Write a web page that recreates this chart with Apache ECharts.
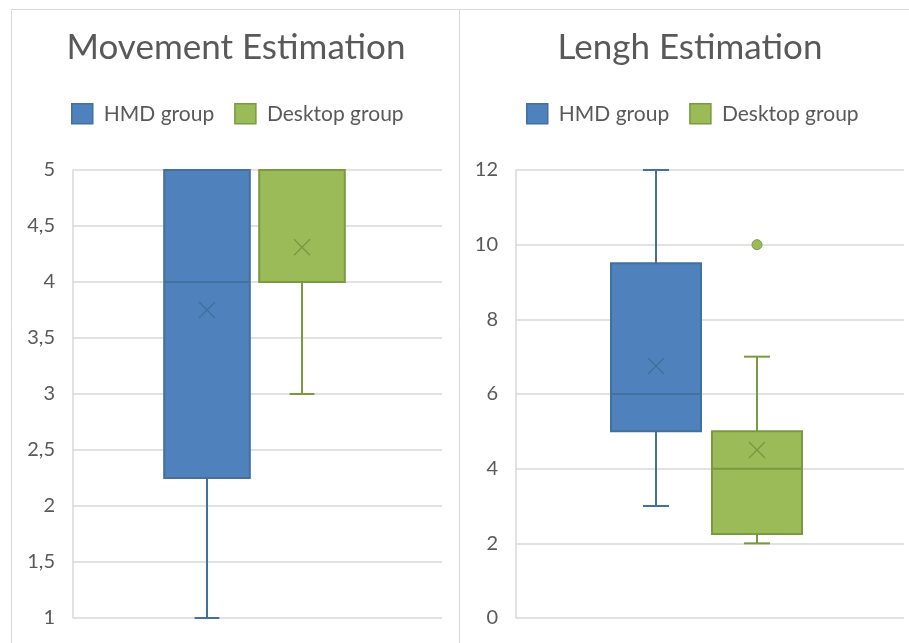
<!DOCTYPE html>
<html>
<head>
<meta charset="utf-8">
<script src="https://cdn.jsdelivr.net/npm/echarts@6/dist/echarts.min.js"></script>
<style>
  html, body { margin: 0; padding: 0; background: #ffffff; }
  #chart { width: 909px; height: 643px; }
</style>
</head>
<body>
<div id="chart"></div>
<script>
// Box-and-whisker summaries: [min, Q1, median, Q3, max], plus mean and outliers
const groups = ['HMD group', 'Desktop group'];
const categories = [''];

const movementHMD = [1, 2.25, 4, 5, 5];
const movementDesktop = [3, 4, 4, 5, 5];
const movementMeans = [3.75, 4.31];
const movementOutliers = [[], []];

const lengthHMD = [3, 5, 6, 9.5, 12];
const lengthDesktop = [2, 2.25, 4, 5, 7];
const lengthMeans = [6.75, 4.5];
const lengthOutliers = [[], [10]];

const movementTicks = { min: 1, max: 5, interval: 0.5 };
const lengthTicks = { min: 0, max: 12, interval: 2 };

const fills = ['#4f81bd', '#9bbb59'];
const strokes = ['#41719c', '#799a3e'];
const textColor = '#595959';
const gridColor = '#d9d9d9';
const fontFamily = 'Lato, "Open Sans", sans-serif';

// horizontal placement of each box inside the category band (fractions of band)
const boxOffsets = [-0.138, 0.121];
const boxFrac = 0.232;
const capFrac = 0.29;

function makeRenderer(groupIdx, summaries, means, outliers) {
  return function (params, api) {
    const cat = api.value(0);
    const cx0 = api.coord([cat, 0])[0];
    const band = api.size([1, 0])[0];
    const cx = Math.round(cx0 + band * boxOffsets[groupIdx]);
    const w = band * boxFrac;
    const cap = w * capFrac;
    const y = (v) => api.coord([cat, v])[1];
    const s = summaries;
    const yMin = y(s[0]), yQ1 = y(s[1]), yMed = y(s[2]), yQ3 = y(s[3]), yMax = y(s[4]);
    const yMean = y(means[groupIdx]);
    const stroke = strokes[groupIdx];
    const lineStyle = { stroke: stroke, lineWidth: 2, fill: null };
    const children = [];
    // whiskers
    if (yMax < yQ3) {
      children.push({ type: 'line', shape: { x1: cx, y1: yMax, x2: cx, y2: yQ3 }, style: lineStyle });
      children.push({ type: 'line', shape: { x1: cx - cap / 2, y1: yMax, x2: cx + cap / 2, y2: yMax }, style: lineStyle });
    }
    if (yMin > yQ1) {
      children.push({ type: 'line', shape: { x1: cx, y1: yQ1, x2: cx, y2: yMin }, style: lineStyle });
      children.push({ type: 'line', shape: { x1: cx - cap / 2, y1: yMin, x2: cx + cap / 2, y2: yMin }, style: lineStyle });
    }
    // box
    children.push({
      type: 'rect',
      shape: { x: cx - w / 2, y: yQ3, width: w, height: yQ1 - yQ3 },
      style: { fill: fills[groupIdx], stroke: stroke, lineWidth: 2 }
    });
    // median
    children.push({ type: 'line', shape: { x1: cx - w / 2, y1: yMed, x2: cx + w / 2, y2: yMed }, style: lineStyle });
    // mean marker (x)
    const m = 8;
    const xStyle = { stroke: stroke, lineWidth: 1.5, fill: null };
    children.push({ type: 'line', shape: { x1: cx - m, y1: yMean - m, x2: cx + m, y2: yMean + m }, style: xStyle });
    children.push({ type: 'line', shape: { x1: cx - m, y1: yMean + m, x2: cx + m, y2: yMean - m }, style: xStyle });
    // outliers
    outliers[groupIdx].forEach(function (v) {
      children.push({
        type: 'circle',
        shape: { cx: cx, cy: y(v), r: 5 },
        style: { fill: fills[groupIdx], stroke: stroke, lineWidth: 1 }
      });
    });
    return { type: 'group', children: children };
  };
}

function legendFor(left) {
  return {
    left: left,
    top: 103,
    padding: 0,
    itemWidth: 21,
    itemHeight: 20,
    itemGap: 20,
    icon: 'rect',
    selectedMode: false,
    textStyle: { color: textColor, fontSize: 21, fontFamily: fontFamily, padding: [0, 0, 0, 6] },
    data: groups.map(function (g, i) {
      return { name: g, itemStyle: { color: fills[i], borderColor: strokes[i], borderWidth: 1.5 } };
    })
  };
}

function yAxisFor(gridIndex, ticks) {
  return {
    type: 'value',
    gridIndex: gridIndex,
    min: ticks.min,
    max: ticks.max,
    interval: ticks.interval,
    axisLine: { show: true, lineStyle: { color: gridColor, width: 1.5 } },
    axisTick: { show: false },
    splitLine: { show: true, lineStyle: { color: gridColor, width: 1.5 } },
    axisLabel: {
      color: textColor,
      fontSize: 20,
      fontFamily: fontFamily,
      margin: 18,
      formatter: function (v) { return String(v).replace('.', ','); }
    }
  };
}

function xAxisFor(gridIndex) {
  return {
    type: 'category',
    gridIndex: gridIndex,
    data: categories,
    axisLine: { show: false },
    axisTick: { show: false },
    axisLabel: { show: false },
    splitLine: { show: false }
  };
}

const chart = echarts.init(document.getElementById('chart'), null, { renderer: 'canvas' });

chart.setOption({
  backgroundColor: '#ffffff',
  animation: false,
  title: [
    { text: 'Movement Estimation', left: 231, top: 25, textAlign: 'center',
      textStyle: { color: textColor, fontSize: 35, fontWeight: 'normal', fontFamily: fontFamily } },
    { text: 'Lengh Estimation', left: 685, top: 25, textAlign: 'center',
      textStyle: { color: textColor, fontSize: 35, fontWeight: 'normal', fontFamily: fontFamily } }
  ],
  legend: [legendFor(71), legendFor(526)],
  grid: [
    { left: 73, right: 467, top: 170, bottom: 25 },
    { left: 516, right: 5, top: 170, bottom: 25 }
  ],
  xAxis: [xAxisFor(0), xAxisFor(1)],
  yAxis: [yAxisFor(0, movementTicks), yAxisFor(1, lengthTicks)],
  graphic: [
    // chart area frames
    { type: 'polyline', silent: true,
      shape: { points: [[11.5, 643], [11.5, 9.5], [909, 9.5]] },
      style: { stroke: gridColor, lineWidth: 1, fill: null } },
    { type: 'line', silent: true,
      shape: { x1: 459.5, y1: 9.5, x2: 459.5, y2: 643 },
      style: { stroke: gridColor, lineWidth: 1 } }
  ],
  series: [
    { name: groups[0], type: 'custom', xAxisIndex: 0, yAxisIndex: 0,
      itemStyle: { color: fills[0] },
      renderItem: makeRenderer(0, movementHMD, movementMeans, movementOutliers),
      encode: { x: 0, y: [1, 2, 3, 4, 5] },
      data: [[0].concat(movementHMD)] },
    { name: groups[1], type: 'custom', xAxisIndex: 0, yAxisIndex: 0,
      itemStyle: { color: fills[1] },
      renderItem: makeRenderer(1, movementDesktop, movementMeans, movementOutliers),
      encode: { x: 0, y: [1, 2, 3, 4, 5] },
      data: [[0].concat(movementDesktop)] },
    { name: groups[0], type: 'custom', xAxisIndex: 1, yAxisIndex: 1,
      itemStyle: { color: fills[0] },
      renderItem: makeRenderer(0, lengthHMD, lengthMeans, lengthOutliers),
      encode: { x: 0, y: [1, 2, 3, 4, 5] },
      data: [[0].concat(lengthHMD)] },
    { name: groups[1], type: 'custom', xAxisIndex: 1, yAxisIndex: 1,
      itemStyle: { color: fills[1] },
      renderItem: makeRenderer(1, lengthDesktop, lengthMeans, lengthOutliers),
      encode: { x: 0, y: [1, 2, 3, 4, 5] },
      data: [[0].concat(lengthDesktop)] }
  ]
});
</script>
</body>
</html>
